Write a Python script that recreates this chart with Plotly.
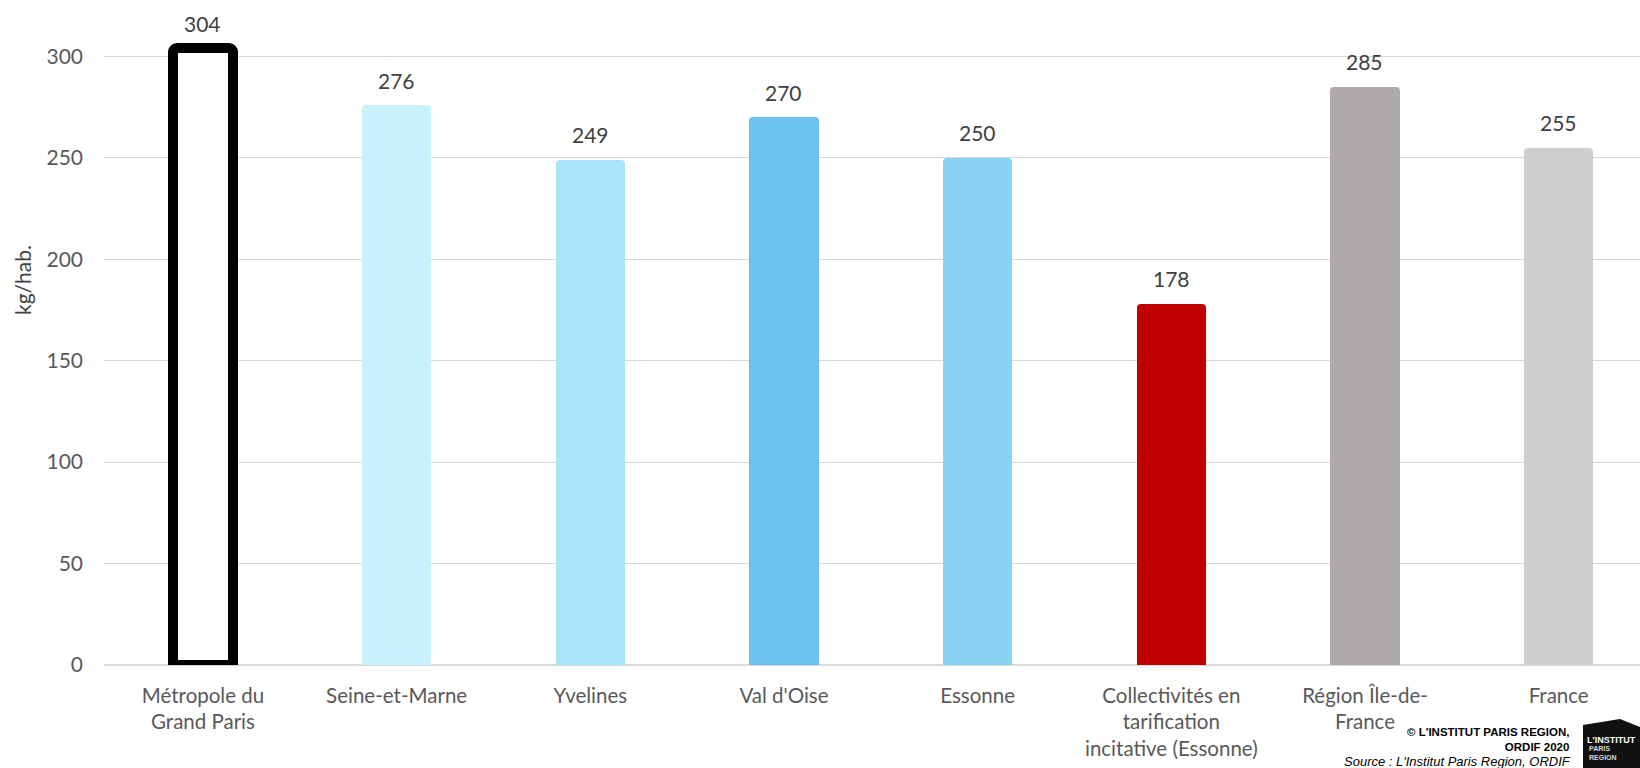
import plotly.graph_objects as go

categories = [
    "Métropole du<br>Grand Paris",
    "Seine-et-Marne",
    "Yvelines",
    "Val d'Oise",
    "Essonne",
    "Collectivités en<br>tarification<br>incitative (Essonne)",
    "Région Île-de-<br>France",
    "France",
]
values = [304, 276, 249, 270, 250, 178, 285, 255]
colors = ["#FFFFFF", "#C9F3FC", "#A9E5F8", "#6CC2EE", "#8AD4F3", "#C00000", "#AEAAAA", "#D0CECE"]
line_widths = [10, 0, 0, 0, 0, 0, 0, 0]
bar_widths = [0.31, 0.357, 0.357, 0.357, 0.357, 0.357, 0.357, 0.357]
y_ticks = [0, 50, 100, 150, 200, 250, 300]

FONT = "Lato, 'Open Sans', sans-serif"
NARROW = "'Liberation Sans Narrow', 'Liberation Sans', sans-serif"

# layout geometry (pixels)
L, R, T, B = 104, 0, 20, 103
W, H = 1640, 768
pw, ph = W - L - R, H - T - B

def px(x):
    return (x - L) / pw

def py(y):
    return (H - B - y) / ph

fig = go.Figure()
fig.add_trace(go.Bar(
    x=list(range(len(categories))),
    y=values,
    width=bar_widths,
    marker=dict(color=colors, line=dict(color="#000000", width=line_widths), cornerradius=4),
    hoverinfo="skip",
))

annotations = []
for i, v in enumerate(values):
    annotations.append(dict(
        x=i, y=v, xref="x", yref="y", text=str(v), showarrow=False,
        yanchor="middle", yshift=25,
        font=dict(family=FONT, size=21, color="#404040"),
    ))

annotations.append(dict(
    x=px(22), y=py(280), xref="paper", yref="paper", text="kg/hab.",
    textangle=-90, showarrow=False, xanchor="center", yanchor="middle",
    font=dict(family=FONT, size=21, color="#404040"),
))

annotations.append(dict(
    x=px(1571), y=py(739), xref="paper", yref="paper",
    text="<b>© L'INSTITUT PARIS REGION,<br>ORDIF 2020</b>",
    showarrow=False, xanchor="right", yanchor="middle", align="right",
    font=dict(family=NARROW, size=11.5, color="#000000"),
))
annotations.append(dict(
    x=px(1573), y=py(761), xref="paper", yref="paper",
    text="<i>Source : L'Institut Paris Region, ORDIF</i>",
    showarrow=False, xanchor="right", yanchor="middle", align="right",
    font=dict(family=NARROW, size=13, color="#000000"),
))
annotations.append(dict(
    x=px(1611), y=py(740), xref="paper", yref="paper",
    text="<b>L'INSTITUT</b>", showarrow=False, xanchor="center", yanchor="middle",
    borderpad=0,
    font=dict(family=NARROW, size=9, color="#FFFFFF"),
))
annotations.append(dict(
    x=px(1588), y=py(753), xref="paper", yref="paper",
    text="<b>PARIS<br>REGION</b>", showarrow=False, xanchor="left", yanchor="middle", align="left",
    borderpad=0,
    font=dict(family=NARROW, size=7, color="#D8D8D8"),
))

logo_pts = [(1583, 725), (1620, 719), (1640, 727), (1640, 768), (1583, 768)]
path = "M " + " L ".join(f"{px(a):.5f},{py(b):.5f}" for a, b in logo_pts) + " Z"

fig.update_layout(
    width=W, height=H,
    margin=dict(l=L, r=R, t=T, b=B, autoexpand=False),
    paper_bgcolor="#FFFFFF", plot_bgcolor="#FFFFFF",
    showlegend=False,
    bargap=0,
    annotations=annotations,
    shapes=[dict(type="path", path=path, xref="paper", yref="paper",
                 fillcolor="#111111", line=dict(width=0), layer="below")],
    xaxis=dict(
        tickmode="array", tickvals=list(range(len(categories))), ticktext=categories,
        range=[-0.511, 7.42], showgrid=False, zeroline=False, showline=False,
        ticks="", ticklabelstandoff=16,
        tickfont=dict(family=FONT, size=20.5, color="#595959"),
        fixedrange=True,
    ),
    yaxis=dict(
        range=[0, ph / 2.0287], tickvals=y_ticks, showgrid=True, gridcolor="#D9D9D9", gridwidth=1,
        zeroline=True, zerolinecolor="#D9D9D9", zerolinewidth=1.5, showline=False, ticks="",
        ticklabelstandoff=20,
        tickfont=dict(family=FONT, size=21, color="#595959"),
        fixedrange=True,
    ),
)

fig.write_html(
    "out.html",
    config={"displayModeBar": False},
    post_script="document.body.style.margin='0';document.body.style.overflow='hidden';",
)
